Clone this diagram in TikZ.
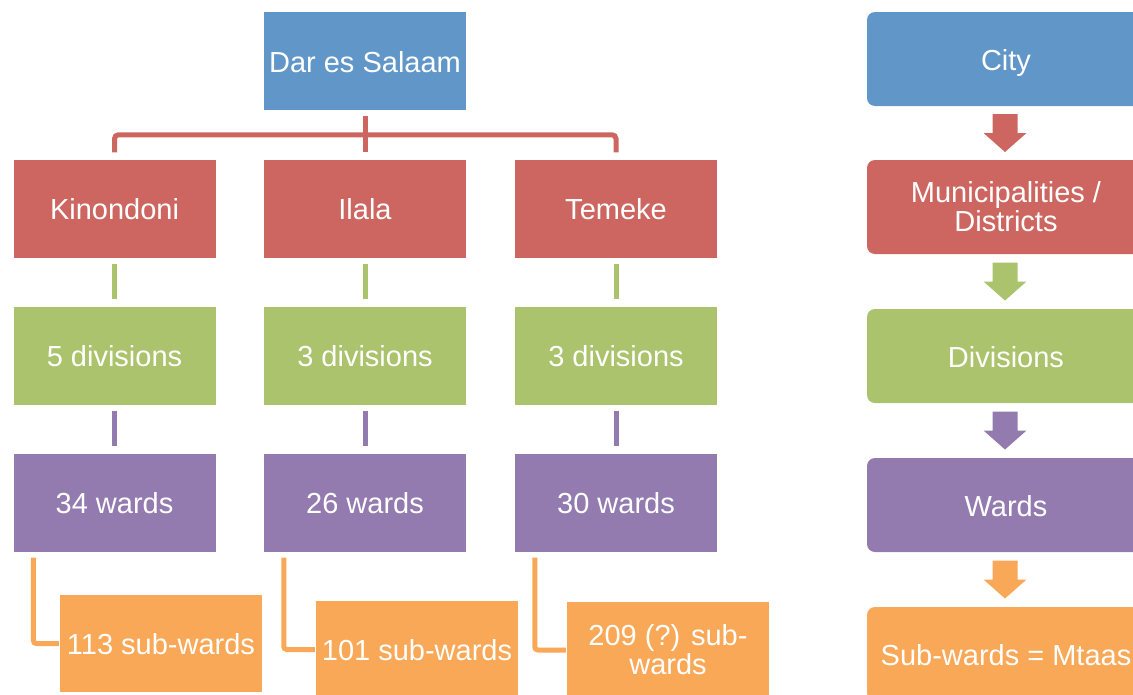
\documentclass[tikz,border=0pt]{standalone}
\usepackage{fontspec}
\setmainfont{Liberation Sans}
\usetikzlibrary{calc}
\definecolor{cblue}{HTML}{6096C8}
\definecolor{cred}{HTML}{CD6660}
\definecolor{cgreen}{HTML}{AAC36C}
\definecolor{cpurple}{HTML}{937BB0}
\definecolor{corange}{HTML}{F9A857}
\begin{document}
\begin{tikzpicture}[x=1pt,y=-1pt,
  mbox/.style={rectangle, minimum width=202pt, minimum height=98pt, inner sep=0pt,
    text=white, font=\fontsize{29}{29}\selectfont, align=center},
  box/.style={mbox, text height=26pt, text depth=3.2pt},
  mrbox/.style={mbox, rounded corners=8pt, minimum width=278pt, minimum height=94pt},
  rbox/.style={box, rounded corners=8pt, minimum width=278pt, minimum height=94pt},
  link/.style={line width=5pt},
  barrow/.pic={\fill (-12.5,-19) -- (12.5,-19) -- (12.5,0) -- (21.5,0) -- (0,19) -- (-21.5,0) -- (-12.5,0) -- cycle;}
]
\useasboundingbox (0,0) rectangle (1133,694);

% left tree
\node[box, fill=cblue] (dar) at (365,61) {Dar es Salaam};

\node[box, fill=cred] (kin) at (114.5,208.5) {Kinondoni};
\node[box, fill=cred] (ila) at (365,208.5) {Ilala};
\node[box, fill=cred] (tem) at (616,208.5) {Temeke};

\node[box, fill=cgreen] (kd) at (114.5,355.5) {5 divisions};
\node[box, fill=cgreen] (id) at (365,355.5) {3 divisions};
\node[box, fill=cgreen] (td) at (616,355.5) {3 divisions};

\node[box, fill=cpurple] (kw) at (114.5,502.5) {34 wards};
\node[box, fill=cpurple] (iw) at (365,502.5) {26 wards};
\node[box, fill=cpurple] (tw) at (616,502.5) {30 wards};

\node[box, fill=corange, minimum height=97pt] (ks) at (161,643.5) {113 sub-wards};
\node[box, fill=corange, minimum height=97pt] (is) at (417,649.5) {101 sub-wards};
\node[mbox, fill=corange, minimum height=97pt] (ts) at (668,650) {209 (?) sub-\\wards};

% red connectors
\coordinate (rmid) at ($(dar.south)!0.5!(ila.north)$);
\draw[link, cred] ([yshift=-6pt]dar.south) -- ([yshift=7pt]ila.north);
\draw[link, cred, rounded corners=4pt] ([yshift=7pt]kin.north) |- (rmid) -| ([yshift=7pt]tem.north);

% green connectors
\foreach \a/\b in {kin/kd, ila/id, tem/td}
  \draw[link, cgreen] ([yshift=-6pt]\a.south) -- ([yshift=7pt]\b.north);
% purple connectors
\foreach \a/\b in {kd/kw, id/iw, td/tw}
  \draw[link, cpurple] ([yshift=-6pt]\a.south) -- ([yshift=7pt]\b.north);
% orange connectors
\foreach \a/\b in {kw/ks, iw/is, tw/ts}
  \draw[link, corange, rounded corners=3pt] ([xshift=20pt, yshift=-6pt]\a.south west) |- ([xshift=-1pt]\b.west);

% right column
\node[rbox, fill=cblue] (city) at (1006,59) {City};
\node[mrbox, fill=cred] (muni) at (1006,207) {Municipalities /\\Districts};
\node[rbox, fill=cgreen] (divs) at (1006,356) {Divisions};
\node[rbox, fill=cpurple] (wards) at (1006,505) {Wards};
\node[rbox, fill=corange] (subw) at (1006,654) {Sub-wards = Mtaas};

\path (city) -- (muni) coordinate[midway] (a1);
\path (muni) -- (divs) coordinate[midway] (a2);
\path (divs) -- (wards) coordinate[midway] (a3);
\path (wards) -- (subw) coordinate[midway] (a4);
\pic[fill=cred] at ([xshift=-1pt]a1) {barrow};
\pic[fill=cgreen] at ([xshift=-1pt]a2) {barrow};
\pic[fill=cpurple] at ([xshift=-1pt]a3) {barrow};
\pic[fill=corange] at ([xshift=-1pt]a4) {barrow};
\end{tikzpicture}
\end{document}
